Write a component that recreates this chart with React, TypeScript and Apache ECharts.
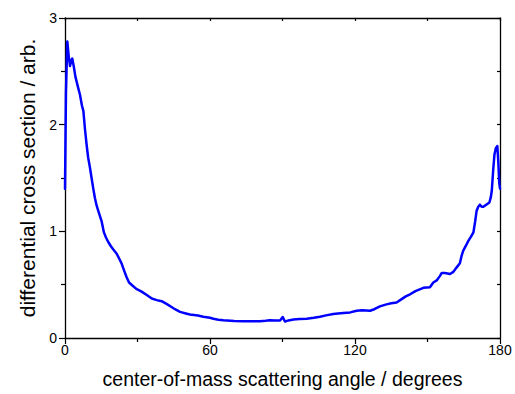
import React, { useEffect, useRef } from "react";
import * as echarts from "echarts";

const angles = [
  0, 0.4, 0.95, 1.5, 2.07, 2.6, 3.0, 3.6, 4.3, 5.4, 6.2, 7.0, 7.6, 8.3, 9.0, 9.6, 10.3, 11.0, 11.7, 12.4,
  13.1, 13.8, 14.5, 15.2, 16.1, 17.0, 17.9, 19.0, 20.0, 21.4, 22.5, 23.4, 24.5, 25.5, 26.5, 28, 29.5, 31.7,
  34, 35.9, 38, 40, 42, 44.1, 45.5, 47.6, 50, 51.7, 55, 57.2, 60, 61.4, 63.5, 65.5, 70, 73.8, 77, 80.7, 83,
  84.8, 87, 89.0, 90.1, 91.0, 92.5, 94.5, 97, 100, 103, 105.5, 108, 111, 113, 115.2, 118, 120.7, 123, 126.2,
  128, 130.3, 133, 135, 137.2, 139, 141, 142.8, 145, 148.3, 151, 152.4, 153.8, 155.1, 155.9, 157.2, 158.3,
  159.3, 160.7, 162, 163.4, 164.1, 164.8, 166, 166.9, 168, 169, 169.7, 170.3, 171, 171.7, 172.4, 173.1,
  174.3, 175.6, 176.2, 176.6, 177.2, 177.7, 178.3, 178.9, 179.3, 179.7, 180,
];

const crossSection = [
  1.4, 2.3, 2.78, 2.65, 2.55, 2.6, 2.62, 2.55, 2.45, 2.35, 2.28, 2.18, 2.13, 1.95, 1.8, 1.69, 1.6, 1.5, 1.4, 1.31,
  1.24, 1.19, 1.14, 1.09, 0.99, 0.94, 0.9, 0.86, 0.83, 0.79, 0.74, 0.7, 0.63, 0.57, 0.52, 0.49, 0.46, 0.435,
  0.4, 0.37, 0.355, 0.345, 0.32, 0.29, 0.27, 0.245, 0.23, 0.22, 0.21, 0.2, 0.19, 0.18, 0.172, 0.167, 0.16, 0.157,
  0.158, 0.157, 0.162, 0.167, 0.163, 0.164, 0.197, 0.154, 0.165, 0.173, 0.177, 0.18, 0.19, 0.2, 0.212, 0.225,
  0.23, 0.235, 0.24, 0.256, 0.26, 0.256, 0.27, 0.296, 0.315, 0.325, 0.333, 0.36, 0.39, 0.41, 0.44, 0.47, 0.475,
  0.52, 0.54, 0.58, 0.61, 0.61, 0.605, 0.6, 0.62, 0.66, 0.7, 0.77, 0.82, 0.87, 0.91, 0.95, 0.99, 1.09, 1.19,
  1.23, 1.25, 1.23, 1.23, 1.25, 1.27, 1.32, 1.38, 1.58, 1.72, 1.78, 1.8, 1.65, 1.45, 1.4,
];

const xTitle = "center-of-mass scattering angle / degrees";
const yTitle = "differential cross section / arb.";

const FONT = "'Liberation Sans', Arial, sans-serif";

export default function App() {
  const ref = useRef<HTMLDivElement>(null);
  useEffect(() => {
    if (!ref.current) return;
    const chart = echarts.init(ref.current, undefined, { renderer: "svg" });
    const data = angles.map((a, i) => [a, crossSection[i]]);
    const axisLine = { show: true, onZero: false, lineStyle: { color: "#000", width: 1.3 } };
    chart.setOption({
      animation: false,
      backgroundColor: "#fff",
      grid: { left: 65, right: 15, top: 18, bottom: 52, containLabel: false },
      xAxis: [
        {
          type: "value",
          min: 0,
          max: 180,
          interval: 60,
          position: "bottom",
          name: xTitle,
          nameLocation: "middle",
          nameGap: 31,
          nameTextStyle: { fontFamily: FONT, fontSize: 19.5, color: "#000" },
          axisLine,
          axisTick: { show: true, inside: false, length: 6, lineStyle: { color: "#000", width: 1.2 } },
          minorTick: { show: true, splitNumber: 2, length: 4, lineStyle: { color: "#000", width: 1.2 } },
          axisLabel: { fontFamily: FONT, fontSize: 14, color: "#000", margin: 5 },
          splitLine: { show: false },
        },
        {
          type: "value",
          min: 0,
          max: 180,
          interval: 30,
          position: "top",
          axisLine,
          axisTick: { show: true, inside: true, length: 3, lineStyle: { color: "#000", width: 1.2 } },
          axisLabel: { show: false },
          splitLine: { show: false },
        },
      ],
      yAxis: [
        {
          type: "value",
          min: 0,
          max: 3,
          interval: 1,
          position: "left",
          name: yTitle,
          nameLocation: "middle",
          nameGap: 24,
          nameTextStyle: { fontFamily: FONT, fontSize: 21, color: "#000" },
          axisLine,
          axisTick: { show: true, inside: false, length: 6, lineStyle: { color: "#000", width: 1.2 } },
          minorTick: { show: true, splitNumber: 2, length: 4, lineStyle: { color: "#000", width: 1.2 } },
          axisLabel: { fontFamily: FONT, fontSize: 14, color: "#000", margin: 8 },
          splitLine: { show: false },
        },
        {
          type: "value",
          min: 0,
          max: 3,
          interval: 0.5,
          position: "right",
          axisLine,
          axisTick: { show: true, inside: true, length: 3, lineStyle: { color: "#000", width: 1.2 } },
          axisLabel: { show: false },
          splitLine: { show: false },
        },
      ],
      series: [
        {
          type: "line",
          xAxisIndex: 0,
          yAxisIndex: 0,
          data,
          showSymbol: false,
          smooth: false,
          lineStyle: { color: "#0000ff", width: 2.5, join: "round", cap: "round" },
          z: 1,
        },
      ],
    });
    return () => chart.dispose();
  }, []);
  return <div ref={ref} style={{ width: 515, height: 394, position: "fixed", left: 0, top: 0 }} />;
}
